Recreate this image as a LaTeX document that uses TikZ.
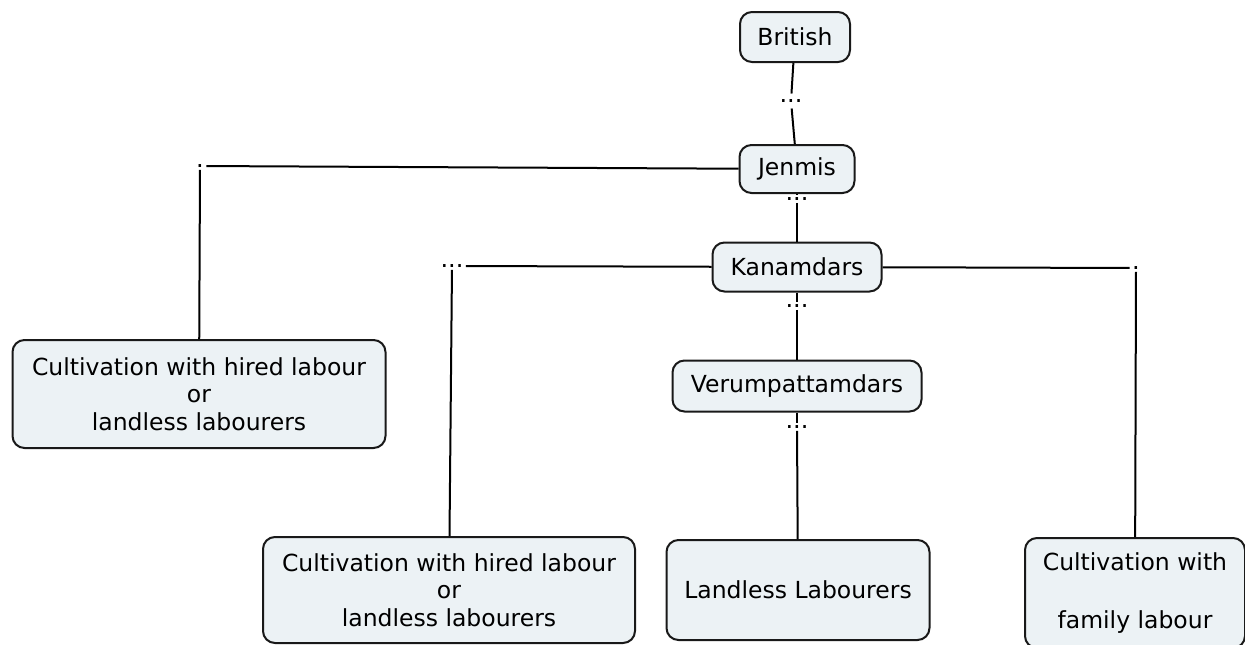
\documentclass[tikz,border=0pt]{standalone}
\usepackage{fontspec}
\setmainfont{DejaVu Sans}
\definecolor{boxfill}{RGB}{236,242,245}
\begin{document}
\begin{tikzpicture}[x=1pt,y=-1pt,
  concept/.style={draw=black!90,line width=2pt,rounded corners=12pt,fill=boxfill,
    align=center,inner sep=0pt,font=\fontsize{23.5}{27.5}\selectfont},
  link/.style={inner sep=1.5pt,font=\fontsize{24}{24}\selectfont},
  every path/.style={line width=2pt}]
  \useasboundingbox (0,0) rectangle (1245,645);
  \node[concept,minimum width=110,minimum height=50] (0) at (795,37) {British};
  \node[concept,minimum width=115,minimum height=48] (1) at (797,169) {Jenmis};
  \node[concept,minimum width=169,minimum height=49] (2) at (797,267) {Kanamdars};
  \node[concept,minimum width=249,minimum height=51] (3) at (797,386) {Verumpattamdars};
  \node[concept,minimum width=373,minimum height=108] (4) at (199,394) {Cultivation with hired labour\\or\\ landless labourers};
  \node[concept,minimum width=372,minimum height=106] (5) at (449,590) {Cultivation with hired labour\\or\\ landless labourers};
  \node[concept,minimum width=263,minimum height=100] (6) at (798,590) {Landless Labourers};
  \node[concept,minimum width=220,minimum height=110] (7) at (1135,593) {Cultivation with\\[31pt]family labour};
  \node[link,inner sep=5pt] (8) at (791,101) {...};
  \node[link] (9) at (797,199) {...};
  \node[link] (10) at (797,306) {...};
  \node[link] (11) at (797,427) {...};
  \node[link] (12) at (200,166) {.};
  \node[link] (13) at (452,266) {...};
  \node[link] (14) at (1136,268) {.};
  \draw (0) -- (8);
  \draw (8) -- (1);
  \draw (1) -- (9);
  \draw (9) -- (2);
  \draw (2) -- (10);
  \draw (10) -- (3);
  \draw (3) -- (11);
  \draw (11) -- (6);
  \draw (1) -- (12);
  \draw (12) -- (4);
  \draw (2) -- (13);
  \draw (13) -- (5);
  \draw (2) -- (14);
  \draw (14) -- (7);
\end{tikzpicture}
\end{document}
